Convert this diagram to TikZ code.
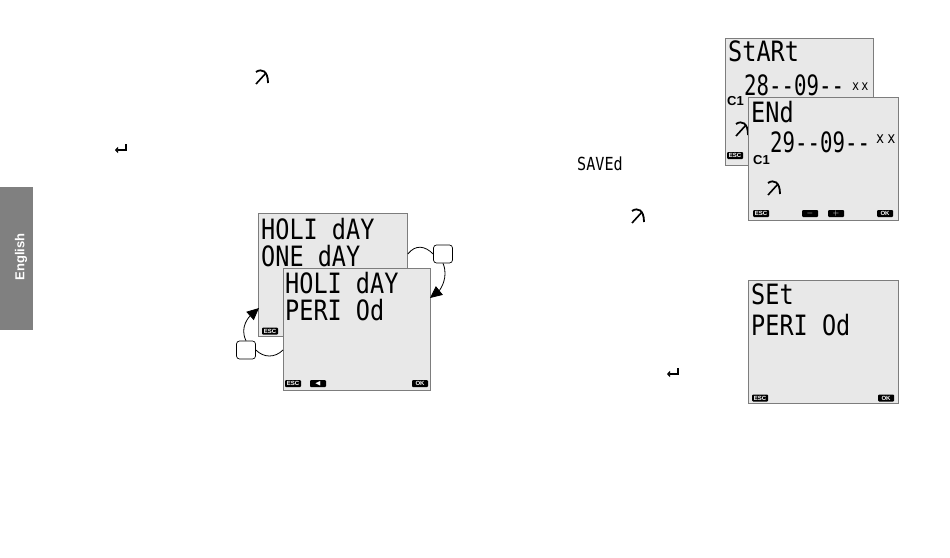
\documentclass[tikz,border=0pt]{standalone}
\usepackage{fontspec}
\usepackage{amssymb}
\setsansfont{Liberation Sans}
\newfontfamily\lcdfont[FakeStretch=0.84]{DejaVu Sans Mono}
\newfontfamily\lcdnarrow[FakeStretch=0.74]{DejaVu Sans Mono}
\usetikzlibrary{arrows.meta}
\definecolor{lcdgray}{RGB}{232,232,232}
\definecolor{lcdedge}{RGB}{125,125,125}
\definecolor{tabgray}{RGB}{128,128,128}

\tikzset{
  pics/hookarr/.style={code={
    \draw[line width=1.6pt] (-6,7) -- (4,-4);
    \draw[line width=1.8pt] (-6,-5) .. controls (0,-9) and (6,-6) .. (6,6);
  }},
  pics/retarr/.style={code={
    \draw[line width=1.1pt,-{Triangle[length=3pt,width=6pt]}] (5,-5) -- (5,1) -- (-6,1);
  }}
}

\begin{document}
\begin{tikzpicture}[x=1pt,y=-1pt,
  screen/.style={draw=lcdedge,fill=lcdgray,line width=0.8pt,minimum width=148pt,minimum height=123pt,inner sep=0pt,anchor=north west},
  lcd/.style={font=\fontsize{28}{28}\lcdfont,inner sep=0pt,anchor=north west},
  key/.style={fill=black,text=white,font=\fontsize{6}{6}\sffamily\bfseries,rounded corners=1pt,minimum width=16pt,minimum height=7pt,inner sep=0pt},
  chan/.style={font=\fontsize{13}{13}\sffamily\bfseries,inner sep=0pt,anchor=north west},
  turn/.style={draw,fill=white,rounded corners=3pt,minimum width=19pt,minimum height=18pt,inner sep=0pt,line width=0.7pt},
  link/.style={line width=0.8pt,-{Triangle[length=12pt,width=11pt]}}
]
\fill[white] (0,0) rectangle (950,557);
\useasboundingbox (0,0) rectangle (950,557);

% language tab
\node[fill=tabgray,minimum width=33pt,minimum height=143pt,inner sep=0pt,anchor=north west] (tab) at (0,187) {};
\node[rotate=90,text=white,font=\fontsize{13}{13}\sffamily\bfseries] (lang) at (21,257) {English};

% loose symbols
\pic at (262,77) {hookarr};
\pic at (121,149) {retarr};
\node[lcd,font=\fontsize{18}{18}\lcdfont] (saved) at (577,157) {SAVEd};
\pic at (638,216) {hookarr};
\pic at (673,373) {retarr};

% holiday screens
\node[screen,minimum width=149pt] (holone) at (258,213) {};
\node[lcd] (holone1) at (261,218) {HOLI dAY};
\node[lcd] (holone2) at (261,245) {ONE dAY};
\node[key] (holoneesc) at (270,331) {ESC};

\node[screen,minimum width=147pt,minimum height=122pt] (holper) at (283,268) {};
\node[lcd] (holper1) at (285,272) {HOLI dAY};
\node[lcd] (holper2) at (285,299) {PERI Od};
\node[key] (holperesc) at (293,383.5) {ESC};
\node[key,font=\fontsize{7}{7}\selectfont] (holperback) at (318,383.5) {$\blacktriangleleft$};
\node[key] (holperok) at (420,383.5) {OK};

\node[turn] (btnR) at (443,254) {};
\node[turn] (btnL) at (246,350) {};
\coordinate (rtip) at (430,298);
\coordinate (ltip) at (259,308);
\draw[line width=0.8pt] (holone.east |- btnR.west) .. controls +(8,-10) and +(-8,-8) .. (btnR.west);
\draw[link] (btnR.south) .. controls +(6,14) and +(10,-8) .. (rtip);
\draw[line width=0.8pt] (holper.west |- btnL.east) .. controls +(-8,8) and +(8,8) .. (btnL.east);
\draw[link] (btnL.north) .. controls +(-7,-14) and +(-9,8) .. (ltip);

% start / end screens
\node[screen,minimum height=127pt] (start) at (725,38) {};
\node[lcd] (start1) at (728,41) {StARt};
\node[lcd,font=\fontsize{28}{28}\lcdnarrow] (start2) at (744,75) {28--09--};
\node[lcd,font=\fontsize{14}{14}\lcdfont] (startxx) at (852,83) {x\hspace{2pt}x};
\node[chan] (startc) at (727,96) {C1};
\pic at (742,129) {hookarr};
\node[key] (startesc) at (735,155.5) {ESC};

\node[screen,minimum width=150pt] (endscr) at (748,97) {};
\node[lcd] (end1) at (751,101) {ENd};
\node[lcd,font=\fontsize{28}{28}\lcdnarrow] (end2) at (770,132) {29--09--};
\node[lcd,font=\fontsize{16}{16}\lcdfont] (endxx) at (876,135) {x\hspace{3pt}x};
\node[chan] (endc) at (753,155) {C1};
\pic at (774,188) {hookarr};
\node[key] (endesc) at (761,213.5) {ESC};
\node[key,font=\fontsize{8}{8}\selectfont] (endminus) at (810,213.5) {$-$};
\node[key,font=\fontsize{8}{8}\selectfont] (endplus) at (836,213.5) {$+$};
\node[key] (endok) at (885,213.5) {OK};

% set period screen
\node[screen,minimum width=150pt] (setper) at (748,280) {};
\node[lcd] (setper1) at (751,284) {SEt};
\node[lcd] (setper2) at (751,314) {PERI Od};
\node[key] (setesc) at (760,398) {ESC};
\node[key] (setok) at (886,398) {OK};
\end{tikzpicture}
\end{document}
